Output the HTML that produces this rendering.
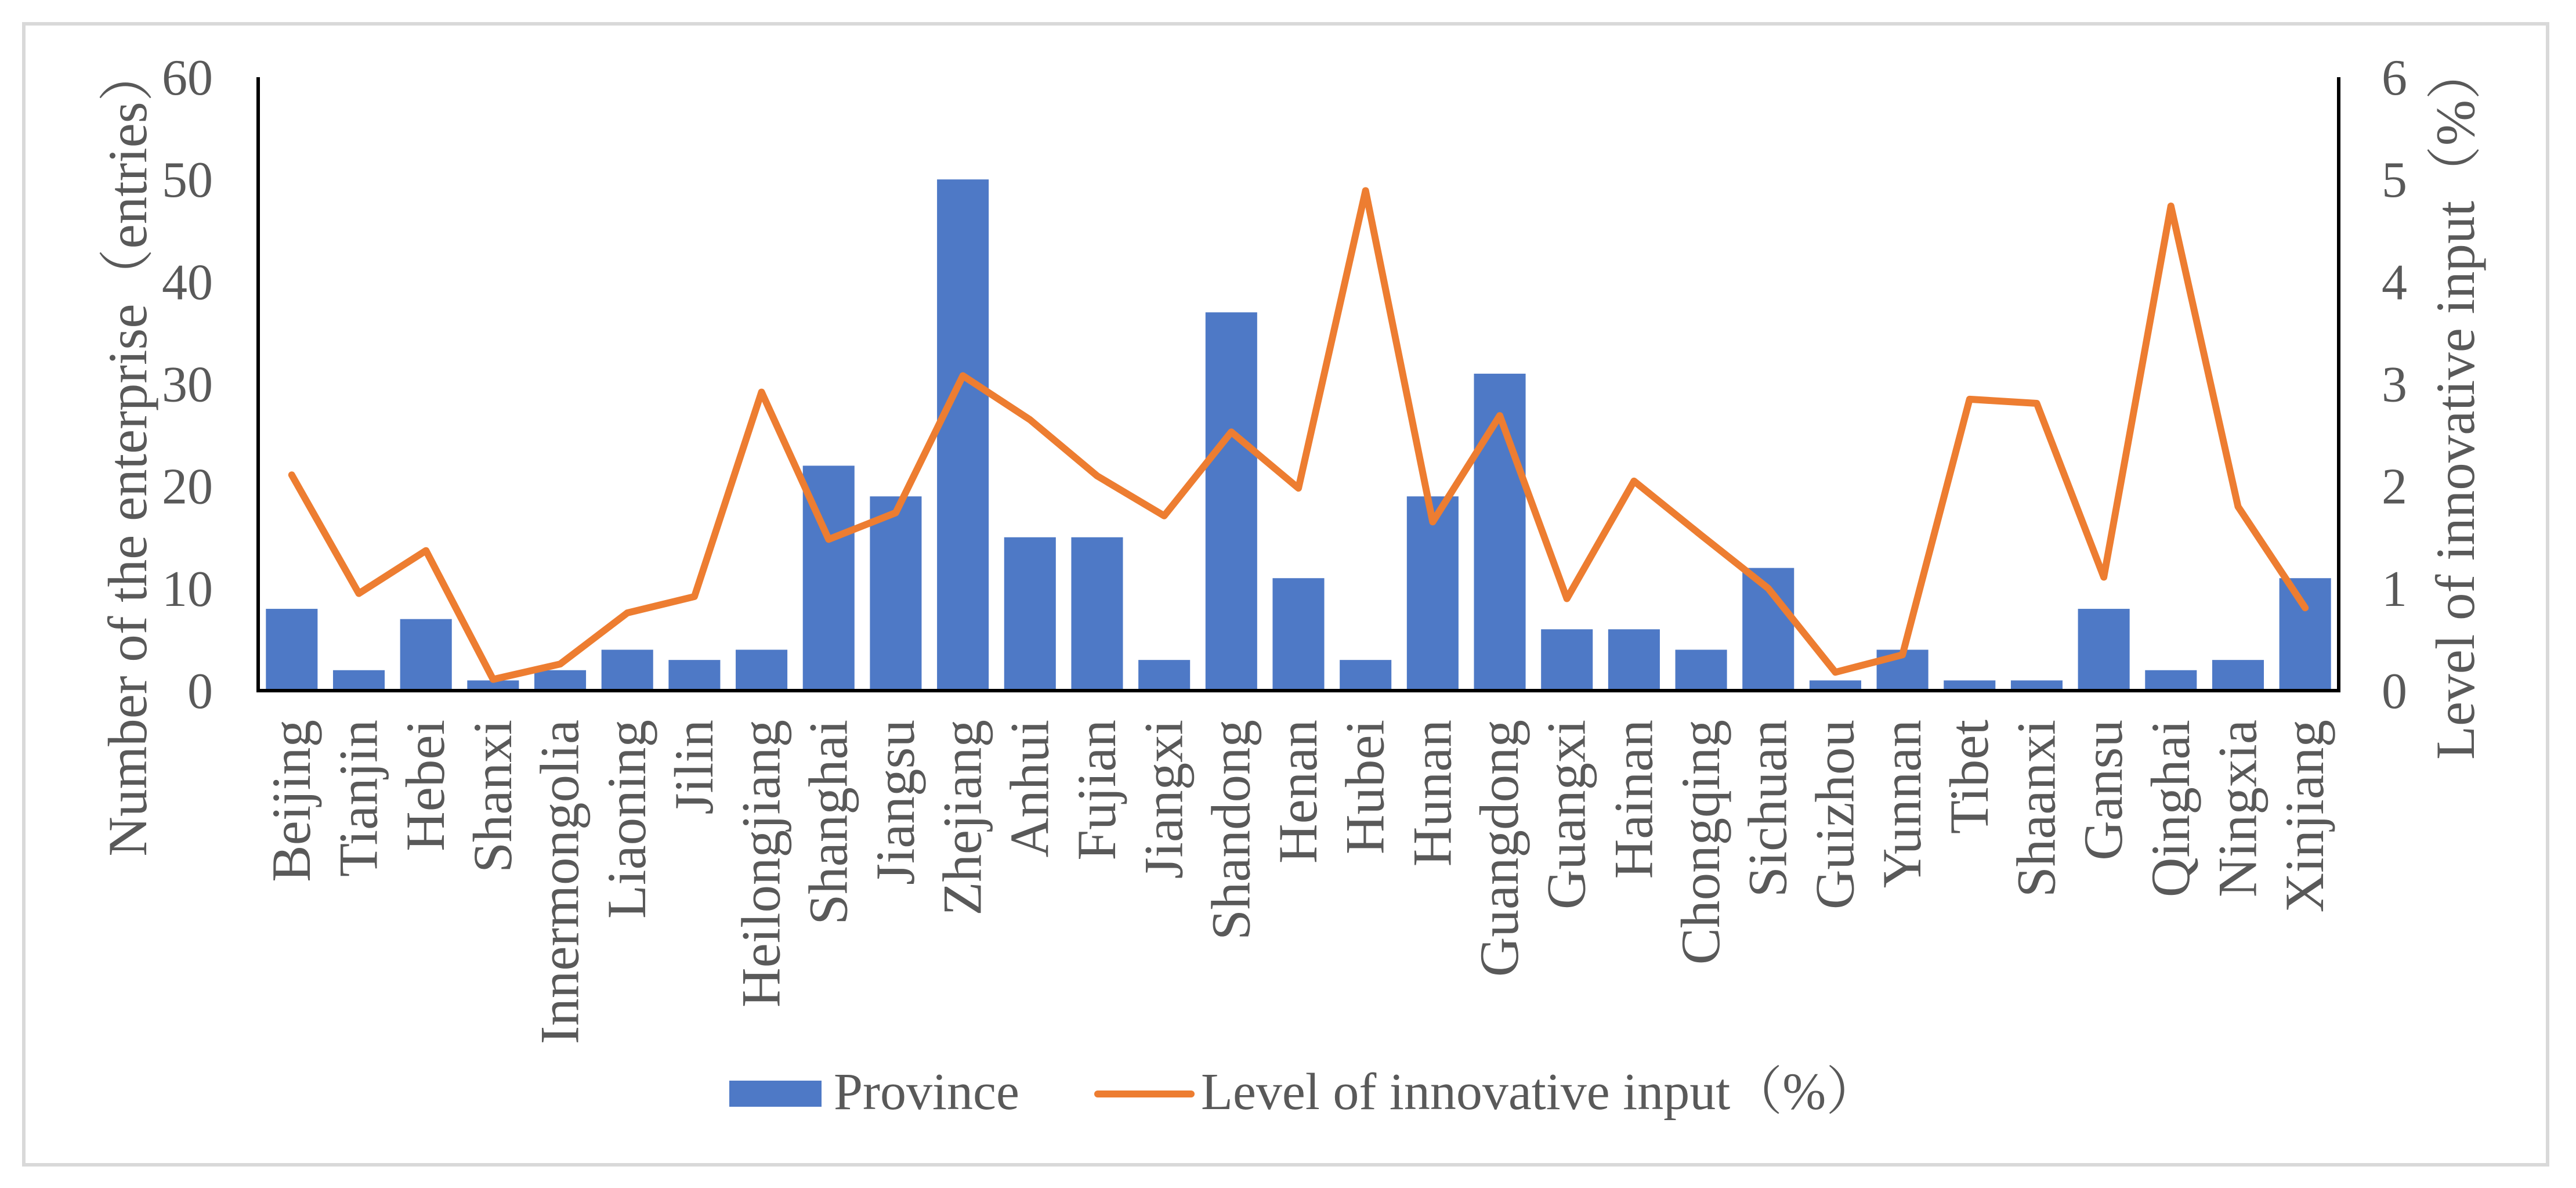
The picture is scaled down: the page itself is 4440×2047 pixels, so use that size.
<!DOCTYPE html>
<html><head><meta charset="utf-8"><style>
html,body{margin:0;padding:0;background:#fff;}
svg{display:block;}
text{font-family:"Liberation Serif","Noto Serif CJK SC",serif;fill:#595959;}
</style></head><body>
<svg id="chart" width="4440" height="2047" viewBox="0 0 4440 2047" xmlns="http://www.w3.org/2000/svg">
<rect x="41" y="41" width="4350" height="1966" fill="#fff" stroke="#d9d9d9" stroke-width="6"/>
<g id="bars"></g>
<g id="line"></g>
<g id="axes"></g>
<text transform="translate(252,778) rotate(-90)" text-anchor="middle" font-size="95">Number of the enterprise（entries）</text>
<text transform="translate(4264,693) rotate(-90)" text-anchor="middle" font-size="95">Level of innovative input（%）</text>
<g>
<rect x="1257" y="1862" width="159" height="45" fill="#4E79C6"/>
<text x="1437" y="1911" font-size="90">Province</text>
<line x1="1892" y1="1885" x2="2053" y2="1885" stroke="#ED7D31" stroke-width="12" stroke-linecap="round"/>
<text x="2070" y="1911" font-size="90">Level of innovative input（%）</text>
</g>
</svg>
<script>
const categories=["Beijing","Tianjin","Hebei","Shanxi","Innermongolia","Liaoning","Jilin","Heilongjiang","Shanghai","Jiangsu","Zhejiang","Anhui","Fujian","Jiangxi","Shandong","Henan","Hubei","Hunan","Guangdong","Guangxi","Hainan","Chongqing","Sichuan","Guizhou","Yunnan","Tibet","Shaanxi","Gansu","Qinghai","Ningxia","Xinjiang"];
const enterpriseCounts=[8,2,7,1,2,4,3,4,22,19,50,15,15,3,37,11,3,19,31,6,6,4,12,1,4,1,1,8,2,3,11];
const innovationLevels=[2.11,0.95,1.37,0.11,0.26,0.76,0.92,2.92,1.48,1.74,3.08,2.65,2.1,1.71,2.53,1.98,4.89,1.65,2.69,0.9,2.05,1.52,1.0,0.18,0.35,2.85,2.81,1.11,4.74,1.8,0.81];
const leftTicks=[0,10,20,30,40,50,60];
const rightTicks=[0,1,2,3,4,5,6];
const NS="http://www.w3.org/2000/svg";
const L=445,R=4031,T=133,B=1190;
const band=(R-L)/categories.length;
function xC(i){return L+band*(i+0.5);}
function yL(v){return B-(v/60)*(B-T);}
function yR(v){return B-(v/6)*(B-T);}
function mk(tag,attrs,parent){const e=document.createElementNS(NS,tag);for(const k in attrs)e.setAttribute(k,attrs[k]);parent.appendChild(e);return e;}
const gb=document.getElementById('bars'),gl=document.getElementById('line'),ga=document.getElementById('axes');
const bw=band*0.77;
enterpriseCounts.forEach((v,i)=>{
  const r=mk('rect',{x:xC(i)-bw/2,y:yL(v),width:bw,height:B-yL(v),fill:'#4E79C6'},gb);
  
  
});
const pts=innovationLevels.map((v,i)=>xC(i).toFixed(1)+','+yR(v).toFixed(1)).join(' ');
const pl=mk('polyline',{points:pts,fill:'none',stroke:'#ED7D31','stroke-width':12,'stroke-linejoin':'round','stroke-linecap':'round'},gl);


const la=mk('line',{x1:L,y1:T,x2:L,y2:B+3,stroke:'#000','stroke-width':6},ga);


const ra=mk('line',{x1:R,y1:T,x2:R,y2:B+3,stroke:'#000','stroke-width':6},ga);


const xa=mk('line',{x1:L-3,y1:B,x2:R+3,y2:B,stroke:'#000','stroke-width':6},ga);


leftTicks.forEach(t=>{
  const e=mk('text',{x:367,y:yL(t)+30,'text-anchor':'end','font-size':88},ga);
  e.textContent=t;
  
  
});
rightTicks.forEach(t=>{
  const e=mk('text',{x:4127,y:yR(t)+30,'text-anchor':'middle','font-size':88},ga);
  e.textContent=t;
  
  
});
categories.forEach((c,i)=>{
  const x=xC(i)+31;
  const e=mk('text',{transform:'translate('+x+',1240) rotate(-90)','text-anchor':'end','font-size':95},ga);
  e.textContent=c;
  
  
});
</script>
</body></html>
